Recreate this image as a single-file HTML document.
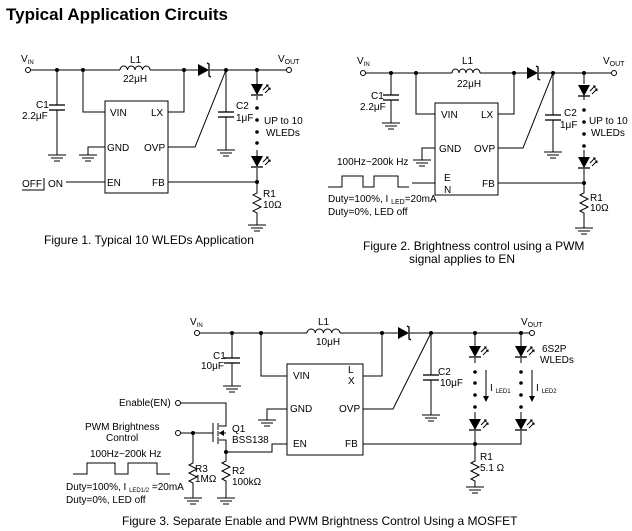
<!DOCTYPE html>
<html><head><meta charset="utf-8"><style>
html,body{margin:0;padding:0;background:#fff;}
svg{display:block;}
text{font-family:"Liberation Sans",Arial,sans-serif;font-size:10px;fill:#000;}
.c{font-size:12px;}
</style></head><body>
<svg width="632" height="531" viewBox="0 0 632 531" xmlns="http://www.w3.org/2000/svg">
<defs>
<g id="gnd" stroke="#000" stroke-width="1"><line x1="-9" y1="0" x2="9" y2="0"/><line x1="-6" y1="3" x2="6" y2="3"/><line x1="-3" y1="6" x2="3" y2="6"/></g>
<g id="led"><polygon points="-6,-6 6,-6 0,5" fill="#000"/><line x1="-6" y1="5" x2="6" y2="5" stroke="#000" stroke-width="1.3"/><g stroke="#000" stroke-width="1" fill="none"><line x1="6" y1="0" x2="11" y2="-5"/><line x1="8" y1="3" x2="13" y2="-2"/><polyline points="9,-5 11,-5 11,-3"/><polyline points="11,-2 13,-2 13,0"/></g></g>
<g id="dio"><polygon points="0,-6 0,6 11,0" fill="#000"/><polyline points="9,-7 11,-6 11,6 13,7" stroke="#000" fill="none" stroke-width="1.3"/></g>
<g id="res"><polyline points="0,0 0,3 -4,5 4,9 -4,13 4,17 -4,21 0,23 0,26" fill="none" stroke="#000" stroke-width="1"/></g>
<g id="cap" stroke="#000" stroke-width="1.3"><line x1="-8" y1="0" x2="8" y2="0"/><line x1="-8" y1="5" x2="8" y2="5"/></g>
</defs>
<text x="6" y="20" style="font-size:17px;font-weight:bold">Typical Application Circuits</text>

<!-- FIGURE 1 -->
<g stroke="#000" stroke-width="1" fill="none">
<circle cx="28" cy="70" r="2.5" fill="#fff"/><circle cx="289" cy="70" r="2.5" fill="#fff"/>
<line x1="30.5" y1="70" x2="120" y2="70"/><line x1="150" y1="70" x2="198" y2="70"/><line x1="210" y1="70" x2="286.5" y2="70"/>
<path d="M120 70 a3.75 4 0 0 1 7.5 0 a3.75 4 0 0 1 7.5 0 a3.75 4 0 0 1 7.5 0 a3.75 4 0 0 1 7.5 0"/>
<rect x="105" y="101" width="63" height="92"/>
<line x1="57" y1="70" x2="57" y2="105"/><line x1="57" y1="110" x2="57" y2="155"/>
<polyline points="83,70 83,112 105,112"/><polyline points="168,112 184,112 184,70"/>
<polyline points="88,155 88,147 105,147"/><polyline points="168,147 195,147 226,70"/>
<line x1="66" y1="182" x2="105" y2="182"/><polyline points="22,190 44,190 44,178"/>
<line x1="168" y1="182" x2="257" y2="182"/>
<line x1="226" y1="70" x2="226" y2="112"/><line x1="226" y1="117" x2="226" y2="150"/>
<line x1="257" y1="70" x2="257" y2="84"/><line x1="257" y1="96" x2="257" y2="100"/>
<line x1="257" y1="150" x2="257" y2="156"/><line x1="257" y1="168" x2="257" y2="190"/>
<line x1="257" y1="216" x2="257" y2="225"/>
</g>
<use href="#cap" x="57" y="105"/><use href="#cap" x="226" y="112"/>
<use href="#gnd" x="57" y="155"/><use href="#gnd" x="88" y="155"/><use href="#gnd" x="226" y="150"/><use href="#gnd" x="257" y="225"/>
<use href="#dio" x="198" y="70"/><use href="#led" x="257" y="90"/><use href="#led" x="257" y="162"/><use href="#res" x="257" y="190"/>
<g fill="#000"><circle cx="57" cy="70" r="2"/><circle cx="83" cy="70" r="2"/><circle cx="184" cy="70" r="2"/><circle cx="226" cy="70" r="2"/><circle cx="257" cy="70" r="2"/><circle cx="257" cy="182" r="2"/>
<circle cx="257" cy="108" r="1.8"/><circle cx="257" cy="120" r="1.8"/><circle cx="257" cy="132" r="1.8"/><circle cx="257" cy="143" r="1.8"/></g>
<text x="21" y="62">V<tspan font-size="6" dy="2">IN</tspan></text>
<text x="278" y="62">V<tspan font-size="7" dy="2">OUT</tspan></text>
<text x="130" y="63">L1</text><text x="123" y="82">22μH</text>
<text x="36" y="108">C1</text><text x="22" y="119">2.2μF</text>
<text x="236" y="109">C2</text><text x="236" y="121">1μF</text>
<text x="110" y="116">VIN</text><text x="151" y="116">LX</text>
<text x="107" y="151">GND</text><text x="144" y="151">OVP</text>
<text x="107" y="186">EN</text><text x="152" y="186">FB</text>
<text x="22" y="187">OFF</text><text x="48" y="187">ON</text>
<text x="264" y="124">UP to 10</text><text x="266" y="136">WLEDs</text>
<text x="263" y="197">R1</text><text x="263" y="208">10Ω</text>
<text class="c" x="44" y="244">Figure 1. Typical 10  WLEDs Application</text>

<!-- FIGURE 2 -->
<g stroke="#000" stroke-width="1" fill="none">
<circle cx="363" cy="73" r="2.5" fill="#fff"/><circle cx="614" cy="73" r="2.5" fill="#fff"/>
<line x1="365.5" y1="73" x2="452" y2="73"/><line x1="480" y1="73" x2="527" y2="73"/><line x1="539" y1="73" x2="611.5" y2="73"/>
<path d="M452 73 a3.5 4 0 0 1 7 0 a3.5 4 0 0 1 7 0 a3.5 4 0 0 1 7 0 a3.5 4 0 0 1 7 0"/>
<rect x="435" y="103" width="63" height="92"/>
<line x1="391" y1="73" x2="391" y2="95"/><line x1="391" y1="100" x2="391" y2="123"/>
<polyline points="416,73 416,114 435,114"/><polyline points="498,114 514,114 514,73"/>
<polyline points="422,160 422,148 435,148"/><polyline points="498,148 523,148 553,73"/>
<line x1="412" y1="183" x2="435" y2="183"/>
<line x1="498" y1="183" x2="584" y2="183"/>
<line x1="553" y1="73" x2="553" y2="115"/><line x1="553" y1="120" x2="553" y2="152"/>
<line x1="584" y1="73" x2="584" y2="84"/><line x1="584" y1="96" x2="584" y2="100"/>
<line x1="584" y1="150" x2="584" y2="157"/><line x1="584" y1="169" x2="584" y2="190"/>
<line x1="584" y1="216" x2="584" y2="228"/>
<polyline points="328,187 342,187 342,176 363,176 363,187 374,187 374,176 398,176 398,187 409,187"/>
</g>
<use href="#cap" x="391" y="95"/><use href="#cap" x="553" y="115"/>
<use href="#gnd" x="391" y="123"/><use href="#gnd" x="422" y="160"/><use href="#gnd" x="553" y="152"/><use href="#gnd" x="584" y="228"/>
<use href="#dio" x="527" y="73"/><use href="#led" x="584" y="91"/><use href="#led" x="584" y="163"/><use href="#res" x="584" y="190"/>
<g fill="#000"><circle cx="391" cy="73" r="2"/><circle cx="416" cy="73" r="2"/><circle cx="514" cy="73" r="2"/><circle cx="553" cy="73" r="2"/><circle cx="584" cy="73" r="2"/><circle cx="584" cy="183" r="2"/>
<circle cx="584" cy="110" r="1.8"/><circle cx="584" cy="122" r="1.8"/><circle cx="584" cy="134" r="1.8"/><circle cx="584" cy="146" r="1.8"/></g>
<text x="357" y="64">V<tspan font-size="6" dy="2">IN</tspan></text>
<text x="603" y="64">V<tspan font-size="7" dy="2">OUT</tspan></text>
<text x="462" y="64">L1</text><text x="457" y="87">22μH</text>
<text x="371" y="99">C1</text><text x="360" y="110">2.2μF</text>
<text x="564" y="116">C2</text><text x="560" y="128">1μF</text>
<text x="441" y="118">VIN</text><text x="481" y="118">LX</text>
<text x="439" y="152">GND</text><text x="474" y="152">OVP</text>
<text x="444" y="181">E</text><text x="444" y="193">N</text><text x="482" y="187">FB</text>
<text x="589" y="124">UP to 10</text><text x="591" y="136">WLEDs</text>
<text x="590" y="201">R1</text><text x="590" y="211">10Ω</text>
<text x="337" y="165">100Hz~200k Hz</text>
<text x="328" y="202">Duty=100%, I <tspan font-size="7" dy="2">LED</tspan><tspan dy="-2">=20mA</tspan></text>
<text x="328" y="215">Duty=0%, LED  off</text>
<text class="c" x="363" y="250">Figure 2. Brightness control using a PWM</text>
<text class="c" x="409" y="263">signal applies to EN</text>

<!-- FIGURE 3 -->
<g stroke="#000" stroke-width="1" fill="none">
<circle cx="197" cy="333" r="2.5" fill="#fff"/><circle cx="532" cy="333" r="2.5" fill="#fff"/>
<line x1="199.5" y1="333" x2="307" y2="333"/><line x1="340" y1="333" x2="398" y2="333"/><line x1="410" y1="333" x2="529.5" y2="333"/>
<path d="M307 333 a4.125 4 0 0 1 8.25 0 a4.125 4 0 0 1 8.25 0 a4.125 4 0 0 1 8.25 0 a4.125 4 0 0 1 8.25 0"/>
<rect x="287" y="364" width="76" height="91"/>
<line x1="232" y1="333" x2="232" y2="358"/><line x1="232" y1="363" x2="232" y2="386"/>
<polyline points="261,333 261,376 287,376"/><polyline points="363,376 382,376 382,333"/>
<polyline points="267,420 267,409 287,409"/><polyline points="363,409 393,409 431,333"/>
<polyline points="287,444 272,444 272,452 226,452"/>
<polyline points="363,444 521,444 521,431"/>
<line x1="431" y1="333" x2="431" y2="375"/><line x1="431" y1="380" x2="431" y2="415"/>
<line x1="475" y1="333" x2="475" y2="346"/><line x1="475" y1="358" x2="475" y2="363"/>
<line x1="475" y1="412" x2="475" y2="419"/><line x1="475" y1="431" x2="475" y2="458"/>
<line x1="475" y1="484" x2="475" y2="487"/>
<line x1="521" y1="333" x2="521" y2="346"/><line x1="521" y1="358" x2="521" y2="363"/>
<line x1="521" y1="412" x2="521" y2="419"/>
<line x1="486" y1="370" x2="486" y2="398"/><line x1="532" y1="370" x2="532" y2="398"/>
<circle cx="178" cy="403" r="2.5" fill="#fff"/><circle cx="178" cy="433" r="2.5" fill="#fff"/>
<polyline points="180.5,403 226,403 226,426 219,426"/>
<line x1="180.5" y1="433" x2="213" y2="433"/>
<line x1="213" y1="423" x2="213" y2="442"/>
<line x1="218" y1="423" x2="218" y2="430"/><line x1="218" y1="431" x2="218" y2="436"/><line x1="218" y1="437" x2="218" y2="444"/>
<polyline points="219,433 226,433"/><polyline points="219,440 226,440 226,458"/>
<line x1="193" y1="433" x2="193" y2="460"/><line x1="193" y1="486" x2="193" y2="498"/>
<line x1="226" y1="484" x2="226" y2="498"/>
<polyline points="73,474 87,474 87,463 115,463 115,474 128,474 128,463 157,463 157,474 170,474"/>
</g>
<polygon points="219,433 224,430 224,436" fill="#000"/>
<polygon points="483,396 489,396 486,402" fill="#000"/><polygon points="529,396 535,396 532,402" fill="#000"/>
<use href="#cap" x="232" y="358"/><use href="#cap" x="431" y="375"/>
<use href="#gnd" x="232" y="386"/><use href="#gnd" x="267" y="420"/><use href="#gnd" x="431" y="415"/><use href="#gnd" x="475" y="487"/>
<use href="#gnd" x="193" y="498"/><use href="#gnd" x="226" y="498"/>
<use href="#dio" x="398" y="333"/>
<use href="#led" x="475" y="352"/><use href="#led" x="475" y="425"/><use href="#led" x="521" y="352"/><use href="#led" x="521" y="425"/>
<use href="#res" x="475" y="458"/><use href="#res" x="193" y="460"/><use href="#res" x="226" y="458"/>
<g fill="#000"><circle cx="232" cy="333" r="2"/><circle cx="261" cy="333" r="2"/><circle cx="382" cy="333" r="2"/><circle cx="431" cy="333" r="2"/><circle cx="475" cy="333" r="2"/><circle cx="521" cy="333" r="2"/>
<circle cx="475" cy="444" r="2"/><circle cx="193" cy="433" r="2"/><circle cx="226" cy="452" r="2"/>
<circle cx="475" cy="372" r="1.8"/><circle cx="475" cy="383" r="1.8"/><circle cx="475" cy="395" r="1.8"/><circle cx="475" cy="407" r="1.8"/>
<circle cx="521" cy="372" r="1.8"/><circle cx="521" cy="383" r="1.8"/><circle cx="521" cy="395" r="1.8"/><circle cx="521" cy="407" r="1.8"/></g>
<text x="190" y="325">V<tspan font-size="6" dy="2">IN</tspan></text>
<text x="521" y="325">V<tspan font-size="7" dy="2">OUT</tspan></text>
<text x="318" y="325">L1</text><text x="316" y="345">10μH</text>
<text x="213" y="359">C1</text><text x="201" y="369">10μF</text>
<text x="438" y="375">C2</text><text x="440" y="386">10μF</text>
<text x="293" y="379">VIN</text><text x="348" y="373">L</text><text x="348" y="384">X</text>
<text x="290" y="412">GND</text><text x="339" y="412">OVP</text>
<text x="293" y="447">EN</text><text x="345" y="447">FB</text>
<text x="490" y="391">I <tspan font-size="6" dy="2">LED1</tspan></text>
<text x="536" y="391">I <tspan font-size="6" dy="2">LED2</tspan></text>
<text x="542" y="352">6S2P</text><text x="540" y="363">WLEDs</text>
<text x="480" y="460">R1</text><text x="480" y="471">5.1 Ω</text>
<text x="119" y="406">Enable(EN)</text>
<text x="85" y="430">PWM Brightness</text><text x="106" y="441">Control</text>
<text x="232" y="432">Q1</text><text x="232" y="443">BSS138</text>
<text x="195" y="472">R3</text><text x="195" y="482">1MΩ</text>
<text x="232" y="474">R2</text><text x="232" y="485">100kΩ</text>
<text x="90" y="457">100Hz~200k Hz</text>
<text x="66" y="490">Duty=100%, I <tspan font-size="6" dy="2">LED1/2</tspan><tspan dy="-2"> =20mA</tspan></text>
<text x="66" y="503">Duty=0%, LED off</text>
<text class="c" x="122" y="525">Figure 3. Separate Enable and PWM Brightness Control Using a MOSFET</text>
</svg>
</body></html>
